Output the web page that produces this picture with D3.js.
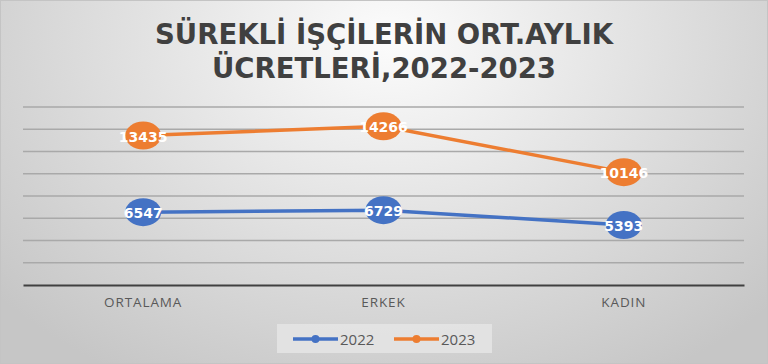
<!DOCTYPE html>
<html>
<head>
  <meta charset="utf-8">
  <title>Sürekli işçilerin ort. aylık ücretleri</title>
  <style>
    body { margin: 0; background: #fff; }
    svg { display: block; }
    .grid line { stroke: #a9a9a9; stroke-width: 1.5px; }
    .cat text { font-family: "Open Sans", sans-serif; font-size: 13.5px; fill: #595959; letter-spacing: 0.9px; }
    .val { font-family: "DejaVu Sans", sans-serif; font-weight: bold; font-size: 14px; fill: #fff; }
  </style>
</head>
<body>
  <svg class="chart" width="768" height="364"></svg>

  <script src="https://d3js.org/d3.v7.min.js"></script>
  <script>
    var categories = ['ORTALAMA', 'ERKEK', 'KADIN'];
    var years = ['2022', '2023'];
    var values2022 = [6547, 6729, 5393];
    var values2023 = [13435, 14266, 10146];
    var yTicks = [0, 2000, 4000, 6000, 8000, 10000, 12000, 14000, 16000];
    var titleLines = ['SÜREKLİ İŞÇİLERİN ORT.AYLIK', 'ÜCRETLERİ,2022-2023'];
    var colors = { '2022': '#4472c4', '2023': '#ed7d31' };

    var series = [
      { name: '2022', values: values2022 },
      { name: '2023', values: values2023 }
    ];

    var svg = d3.select('svg.chart');
    var width = 768, height = 364;

    // background gradient like the office chart style
    var defs = svg.append('defs');
    var grad = defs.append('radialGradient')
      .attr('id', 'bg')
      .attr('gradientUnits', 'userSpaceOnUse')
      .attr('cx', 390).attr('cy', 40).attr('r', 520)
      .attr('gradientTransform', 'translate(390,40) scale(1,0.75) translate(-390,-40)');
    grad.append('stop').attr('offset', '0').attr('stop-color', '#fcfcfc');
    grad.append('stop').attr('offset', '0.55').attr('stop-color', '#dedede');
    grad.append('stop').attr('offset', '1').attr('stop-color', '#c6c6c6');

    svg.append('rect')
      .attr('width', width).attr('height', height)
      .attr('fill', 'url(#bg)');
    svg.append('rect')
      .attr('x', 0.5).attr('y', 0.5)
      .attr('width', width - 1).attr('height', height - 1)
      .attr('fill', 'none').attr('stroke', '#c4c4c4');

    // title
    var title = svg.append('g');
    title.selectAll('text')
      .data(titleLines)
      .enter().append('text')
      .attr('x', 384)
      .attr('y', function(d, i) { return 44 + i * 34; })
      .attr('text-anchor', 'middle')
      .attr('textLength', function(d, i) { return i === 0 ? 458 : 344; })
      .attr('lengthAdjust', 'spacingAndGlyphs')
      .style('font-family', '"DejaVu Sans", sans-serif')
      .style('font-weight', 'bold')
      .style('font-size', '28.5px')
      .style('fill', '#404040')
      .text(function(d) { return d; });

    var plotLeft = 23, plotRight = 744, plotTop = 107, plotBottom = 285;

    var x = d3.scaleBand().domain(categories).range([plotLeft, plotRight]);
    var y = d3.scaleLinear().domain([0, 16000]).range([plotBottom, plotTop]);

    // gridlines
    svg.append('g')
      .attr('class', 'grid')
      .selectAll('line')
      .data(yTicks.slice(1))
      .enter().append('line')
      .attr('x1', plotLeft).attr('x2', plotRight)
      .attr('y1', function(d) { return y(d); })
      .attr('y2', function(d) { return y(d); });

    // category axis
    var xAxis = svg.append('g')
      .attr('class', 'cat')
      .attr('transform', 'translate(0,' + plotBottom + ')')
      .call(d3.axisBottom(x).tickSize(0).tickPadding(12));
    xAxis.select('.domain').attr('stroke', '#404040').attr('stroke-width', 2);
    xAxis.selectAll('text').attr('font-family', null).attr('font-size', null).attr('fill', null);

    var cx = function(d, i) { return x(categories[i]) + x.bandwidth() / 2; };

    var line = d3.line()
      .x(function(d, i) { return cx(d, i); })
      .y(function(d) { return y(d); });

    var groups = svg.selectAll('g.series')
      .data(series)
      .enter().append('g')
      .attr('class', 'series');

    groups.append('path')
      .attr('d', function(s) { return line(s.values); })
      .attr('fill', 'none')
      .attr('stroke', function(s) { return colors[s.name]; })
      .attr('stroke-width', 3.5);

    groups.selectAll('ellipse')
      .data(function(s) { return s.values.map(function(v) { return { v: v, name: s.name }; }); })
      .enter().append('ellipse')
      .attr('cx', function(d, i) { return cx(d, i); })
      .attr('cy', function(d) { return y(d.v); })
      .attr('rx', 18).attr('ry', 14)
      .attr('fill', function(d) { return colors[d.name]; });

    groups.selectAll('text.val')
      .data(function(s) { return s.values; })
      .enter().append('text')
      .attr('class', 'val')
      .attr('x', function(d, i) { return cx(d, i); })
      .attr('y', function(d) { return y(d) + 6; })
      .attr('text-anchor', 'middle')
      .text(function(d) { return d; });

    // legend
    var legend = svg.append('g');
    legend.append('rect')
      .attr('x', 277).attr('y', 324)
      .attr('width', 215).attr('height', 29)
      .attr('fill', '#e6e6e6').attr('opacity', 0.8);

    var item = legend.selectAll('g.item')
      .data(years)
      .enter().append('g')
      .attr('transform', function(d, i) { return 'translate(' + (293 + i * 101) + ',339)'; });
    item.append('line')
      .attr('x1', 0).attr('x2', 45)
      .attr('stroke', function(d) { return colors[d]; })
      .attr('stroke-width', 3.5);
    item.append('circle')
      .attr('cx', 22.5).attr('r', 4)
      .attr('fill', function(d) { return colors[d]; });
    item.append('text')
      .attr('x', 47).attr('y', 5.5)
      .style('font-family', '"Open Sans", sans-serif')
      .style('font-size', '15px')
      .style('fill', '#595959')
      .text(function(d) { return d; });
  </script>
</body>
</html>
